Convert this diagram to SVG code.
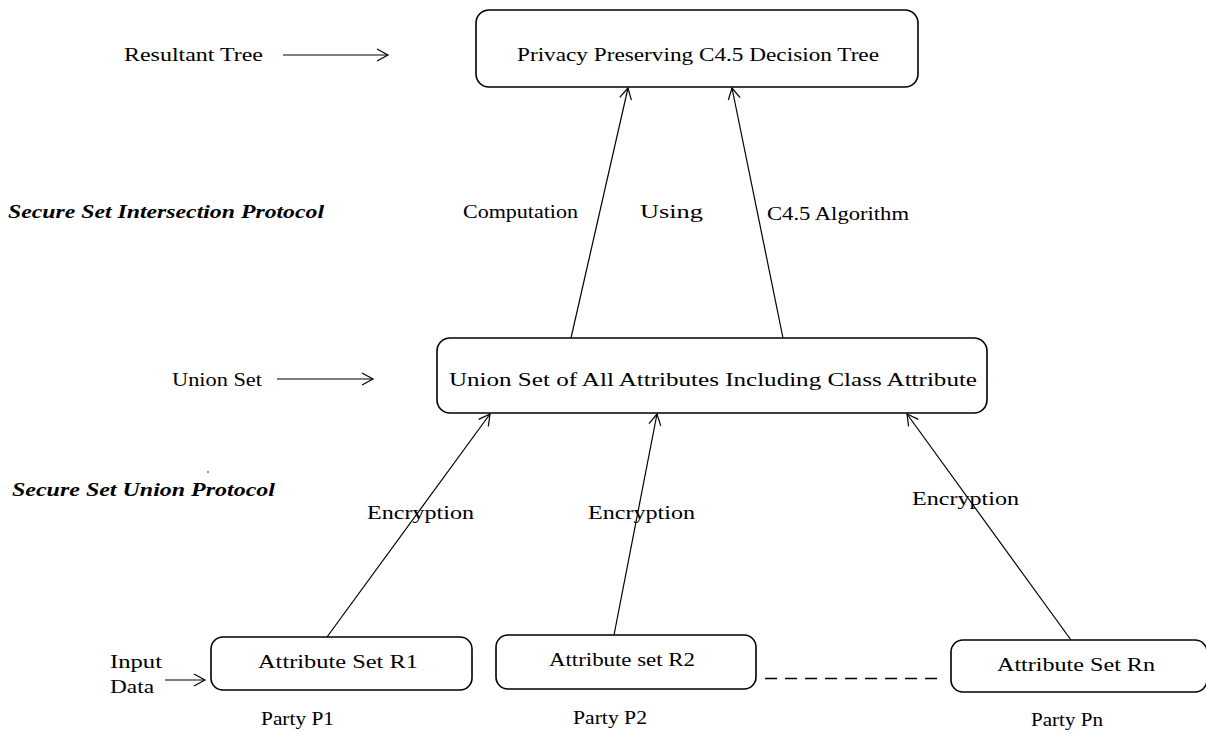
<svg xmlns="http://www.w3.org/2000/svg" width="1206" height="735" viewBox="0 0 1206 735">
<style>
text{font-family:"Liberation Serif",serif;font-size:19px;fill:#000}
.b{font-weight:bold;font-style:italic;font-size:18px}
.box{fill:#fff;stroke:#000;stroke-width:1.6}
.ln{stroke:#000;stroke-width:1.2;fill:none}
.dash{stroke:#000;stroke-width:1.3;fill:none;stroke-dasharray:12,8}
</style>
<defs>
<marker id="ah" markerUnits="userSpaceOnUse" markerWidth="16" markerHeight="16" refX="13" refY="7" orient="auto">
<path d="M2,1 L13,7 L2,13" fill="none" stroke="#000" stroke-width="1.2"/>
</marker>
</defs>
<rect width="1206" height="735" fill="#fff"/>
<g id="connectors">
<line class="ln" x1="283" y1="55" x2="388" y2="55" marker-end="url(#ah)"/>
<line class="ln" x1="277" y1="379" x2="373" y2="379" marker-end="url(#ah)"/>
<line class="ln" x1="165" y1="680" x2="205" y2="680" marker-end="url(#ah)"/>
<line class="ln" x1="571" y1="338" x2="628" y2="88" marker-end="url(#ah)"/>
<line class="ln" x1="783" y1="338" x2="732" y2="88" marker-end="url(#ah)"/>
<line class="ln" x1="327" y1="637" x2="490" y2="414" marker-end="url(#ah)"/>
<line class="ln" x1="614" y1="635" x2="657" y2="414" marker-end="url(#ah)"/>
<line class="ln" x1="1071" y1="640" x2="907" y2="414" marker-end="url(#ah)"/>
<line class="dash" x1="765" y1="678.5" x2="945" y2="678.5"/>
</g>
<g id="labels">
<text x="124" y="61" textLength="139" lengthAdjust="spacingAndGlyphs">Resultant Tree</text>
<text class="b" x="8" y="218" textLength="316" lengthAdjust="spacingAndGlyphs">Secure Set Intersection Protocol</text>
<text x="463" y="218" textLength="115" lengthAdjust="spacingAndGlyphs">Computation</text>
<text x="640" y="218" textLength="63" lengthAdjust="spacingAndGlyphs">Using</text>
<text x="767" y="220" textLength="142" lengthAdjust="spacingAndGlyphs">C4.5 Algorithm</text>
<text x="172" y="386" textLength="90" lengthAdjust="spacingAndGlyphs">Union Set</text>
<text class="b" x="12" y="496" textLength="263" lengthAdjust="spacingAndGlyphs">Secure Set Union Protocol</text>
<text x="367" y="519" textLength="107" lengthAdjust="spacingAndGlyphs">Encryption</text>
<text x="588" y="519" textLength="107" lengthAdjust="spacingAndGlyphs">Encryption</text>
<text x="912" y="505" textLength="107" lengthAdjust="spacingAndGlyphs">Encryption</text>
<text x="110" y="668" textLength="52" lengthAdjust="spacingAndGlyphs">Input</text>
<text x="110" y="693" textLength="44" lengthAdjust="spacingAndGlyphs">Data</text>
<text x="261" y="725" textLength="73" lengthAdjust="spacingAndGlyphs">Party P1</text>
<text x="573" y="724" textLength="74" lengthAdjust="spacingAndGlyphs">Party P2</text>
<text x="1031" y="726" textLength="72" lengthAdjust="spacingAndGlyphs">Party Pn</text>
<circle cx="208" cy="472" r="0.8" fill="#000"/>
</g>
<g id="tree">
<rect class="box" x="476" y="10" width="442" height="77" rx="13"/>
<text x="517" y="61" textLength="362" lengthAdjust="spacingAndGlyphs">Privacy Preserving C4.5 Decision Tree</text>
</g>
<g id="union">
<rect class="box" x="437" y="338" width="550" height="75" rx="13"/>
<text x="449" y="386" textLength="528" lengthAdjust="spacingAndGlyphs">Union Set of All Attributes Including Class Attribute</text>
</g>
<g id="r1">
<rect class="box" x="211" y="637" width="261" height="53" rx="12"/>
<text x="258" y="668" textLength="160" lengthAdjust="spacingAndGlyphs">Attribute Set R1</text>
</g>
<g id="r2">
<rect class="box" x="496" y="635" width="260" height="54" rx="12"/>
<text x="549" y="666" textLength="146" lengthAdjust="spacingAndGlyphs">Attribute set R2</text>
</g>
<g id="rn">
<rect class="box" x="951" y="640" width="256" height="52" rx="12"/>
<text x="997" y="671" textLength="158" lengthAdjust="spacingAndGlyphs">Attribute Set Rn</text>
</g>
</svg>
